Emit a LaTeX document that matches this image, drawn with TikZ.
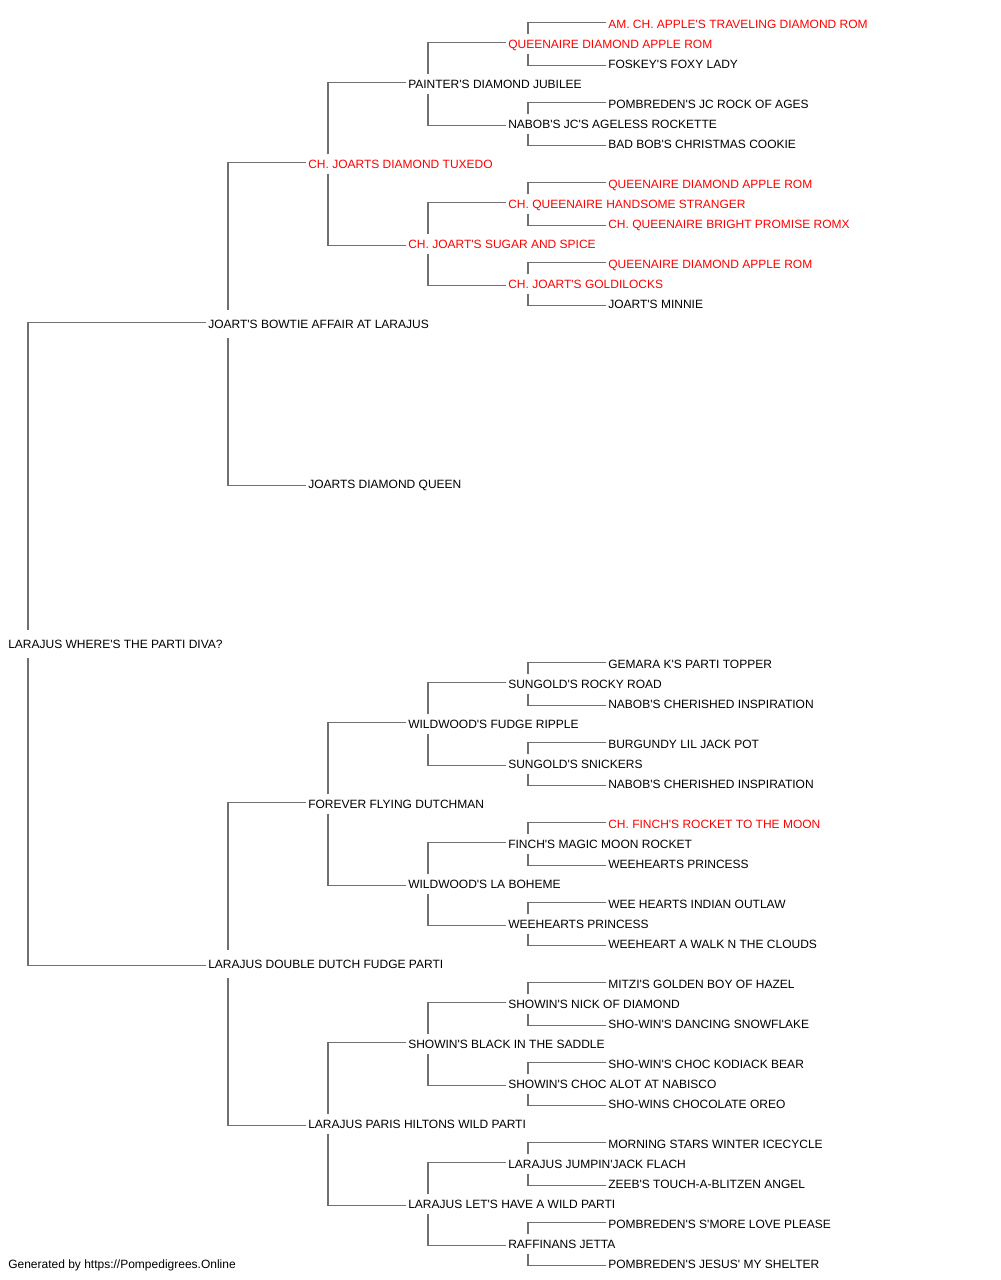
\documentclass[tikz,border=0pt]{standalone}
\usepackage{fontspec}
\setmainfont{Liberation Sans}[Ligatures=TeXOff]
\definecolor{pedred}{HTML}{FF0000}
\definecolor{pedline}{HTML}{707070}
\tikzset{
  ped/.style={anchor=west, inner xsep=1.5pt, inner ysep=0pt,
    text height=6.45pt, text depth=0pt, font=\fontsize{9}{11}\selectfont},
  link/.style={draw=pedline, line width=0.9pt}
}
\begin{document}
\begin{tikzpicture}[x=0.75pt, y=-0.75pt]
      \useasboundingbox (0,0) rectangle (1000,1280);
      % generations, one column each
      \node[ped] (r31) at (6,{24+20*31}) {LARAJUS WHERE'S THE PARTI DIVA?};
      \foreach \r/\t in {15/JOART'S BOWTIE AFFAIR AT LARAJUS, 47/LARAJUS DOUBLE DUTCH FUDGE PARTI}
      \node[ped] (r\r) at (206,{24+20*\r}) {\t};
      \foreach \r/\c/\t in {7/pedred/CH. JOARTS DIAMOND TUXEDO, 23/black/JOARTS DIAMOND QUEEN,
        39/black/FOREVER FLYING DUTCHMAN, 55/black/LARAJUS PARIS HILTONS WILD PARTI}
      \node[ped, text=\c] (r\r) at (306,{24+20*\r}) {\t};
      \foreach \r/\c/\t in {3/black/PAINTER'S DIAMOND JUBILEE, 11/pedred/CH. JOART'S SUGAR AND SPICE,
        35/black/WILDWOOD'S FUDGE RIPPLE, 43/black/WILDWOOD'S LA BOHEME,
        51/black/SHOWIN'S BLACK IN THE SADDLE, 59/black/LARAJUS LET'S HAVE A WILD PARTI}
      \node[ped, text=\c] (r\r) at (406,{24+20*\r}) {\t};
      \foreach \r/\c/\t in {1/pedred/QUEENAIRE DIAMOND APPLE ROM, 5/black/NABOB'S JC'S AGELESS ROCKETTE,
        9/pedred/CH. QUEENAIRE HANDSOME STRANGER, 13/pedred/CH. JOART'S GOLDILOCKS,
        33/black/SUNGOLD'S ROCKY ROAD, 37/black/SUNGOLD'S SNICKERS,
        41/black/FINCH'S MAGIC MOON ROCKET, 45/black/WEEHEARTS PRINCESS,
        49/black/SHOWIN'S NICK OF DIAMOND, 53/black/SHOWIN'S CHOC ALOT AT NABISCO,
        57/black/LARAJUS JUMPIN'JACK FLACH, 61/black/RAFFINANS JETTA}
      \node[ped, text=\c] (r\r) at (506,{24+20*\r}) {\t};
      \foreach \r/\c/\t in {0/pedred/AM. CH. APPLE'S TRAVELING DIAMOND ROM, 2/black/FOSKEY'S FOXY LADY,
        4/black/POMBREDEN'S JC ROCK OF AGES, 6/black/BAD BOB'S CHRISTMAS COOKIE,
        8/pedred/QUEENAIRE DIAMOND APPLE ROM, 10/pedred/CH. QUEENAIRE BRIGHT PROMISE ROMX,
        12/pedred/QUEENAIRE DIAMOND APPLE ROM, 14/black/JOART'S MINNIE,
        32/black/GEMARA K'S PARTI TOPPER, 34/black/NABOB'S CHERISHED INSPIRATION,
        36/black/BURGUNDY LIL JACK POT, 38/black/NABOB'S CHERISHED INSPIRATION,
        40/pedred/CH. FINCH'S ROCKET TO THE MOON, 42/black/WEEHEARTS PRINCESS,
        44/black/WEE HEARTS INDIAN OUTLAW, 46/black/WEEHEART A WALK N THE CLOUDS,
        48/black/MITZI'S GOLDEN BOY OF HAZEL, 50/black/SHO-WIN'S DANCING SNOWFLAKE,
        52/black/SHO-WIN'S CHOC KODIACK BEAR, 54/black/SHO-WINS CHOCOLATE OREO,
        56/black/MORNING STARS WINTER ICECYCLE, 58/black/ZEEB'S TOUCH-A-BLITZEN ANGEL,
        60/black/POMBREDEN'S S'MORE LOVE PLEASE, 62/black/POMBREDEN'S JESUS' MY SHELTER}
      \node[ped, text=\c] (r\r) at (606,{24+20*\r}) {\t};
      \node[ped] (credit) at (6,1264) {Generated by https://Pompedigrees.Online};

      % sire above, dam below
      \foreach \p/\a/\b/\g in {31/15/47/14, 15/7/23/14, 47/39/55/14,
        7/3/11/10, 39/35/43/10, 55/51/59/10,
        3/1/5/10, 11/9/13/10, 35/33/37/10, 43/41/45/10, 51/49/53/10, 59/57/61/10,
        1/0/2/10, 5/4/6/10, 9/8/10/10, 13/12/14/10, 33/32/34/10, 37/36/38/10,
        41/40/42/10, 45/44/46/10, 49/48/50/10, 53/52/54/10, 57/56/58/10, 61/60/62/10}
      {
        \draw[link] (r\p.west) ++(22,-\g) |- ([yshift=1.1pt]r\a.west);
        \draw[link] (r\p.west) ++(22,\g) |- ([yshift=-1.1pt]r\b.west);
      }
    \end{tikzpicture}
\end{document}
